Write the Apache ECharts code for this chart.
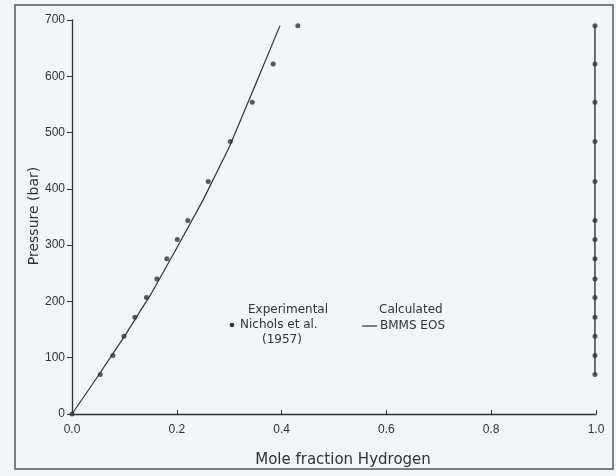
<!DOCTYPE html>
<html>
<head>
<meta charset="utf-8">
<script src="https://cdn.jsdelivr.net/npm/echarts@6/dist/echarts.min.js"></script>
<style>
  html, body { margin: 0; padding: 0; background: #f1f5f7; }
  #chart { width: 616px; height: 476px; }
</style>
</head>
<body>
<div id="chart"></div>
<script>
// Experimental VLE data, H2 mole fraction vs pressure (bar)
const liquidX = [0, 0.054, 0.078, 0.099, 0.120, 0.142, 0.162, 0.181, 0.201, 0.221, 0.260, 0.302, 0.344, 0.384, 0.431];
const liquidP = [0, 70, 104, 138, 172, 207, 240, 276, 310, 344, 413, 484, 554, 622, 690];
const vaporX  = [0.998, 0.998, 0.998, 0.998, 0.998, 0.998, 0.998, 0.998, 0.998, 0.998, 0.998, 0.998, 0.998, 0.998];
const vaporP  = [70, 104, 138, 172, 207, 240, 276, 310, 344, 413, 484, 554, 622, 690];

// Calculated curves (BMMS EOS)
const calcBubbleX = [0, 0.05, 0.10, 0.15, 0.20, 0.25, 0.30, 0.35, 0.397];
const calcBubbleP = [0, 68, 138, 212, 295, 380, 474, 585, 690];
const calcDewX = [0.998, 0.998];
const calcDewP = [70, 690];

// Axis ticks
const xTicks = [0, 0.2, 0.4, 0.6, 0.8, 1.0];
const yTicks = [0, 100, 200, 300, 400, 500, 600, 700];

const ink = '#333';
const pair = (xs, ys) => xs.map((x, i) => [x, ys[i]]);

const chart = echarts.init(document.getElementById('chart'));
chart.setOption({
  backgroundColor: '#f1f5f7',
  animation: false,
  grid: { left: 72, right: 20, top: 20, bottom: 62 },
  xAxis: {
    type: 'value', min: xTicks[0], max: xTicks[xTicks.length - 1], interval: 0.2,
    axisLine: { lineStyle: { color: ink, width: 1.3 } },
    axisTick: { inside: true, length: 4, lineStyle: { color: ink } },
    axisLabel: { color: ink, fontFamily: 'Liberation Sans', fontSize: 12, margin: 10,
                 formatter: v => v.toFixed(1) },
    splitLine: { show: false }
  },
  yAxis: {
    type: 'value', min: yTicks[0], max: yTicks[yTicks.length - 1], interval: 100,
    axisLine: { show: true, lineStyle: { color: ink, width: 1.3 } },
    axisTick: { show: true, inside: false, length: 5, lineStyle: { color: ink } },
    axisLabel: { color: ink, fontFamily: 'Liberation Sans', fontSize: 12, margin: 7 },
    splitLine: { show: false }
  },
  graphic: [
    { type: 'rect', shape: { x: 15, y: 5, width: 598, height: 464 }, silent: true, z: -1,
      style: { fill: null, stroke: '#555', lineWidth: 1.5 } },
    { type: 'text', x: 343, y: 460, style: { text: 'Mole fraction Hydrogen', fill: ink,
      font: '15px "DejaVu Sans"', textAlign: 'center', textVerticalAlign: 'middle' } },
    { type: 'text', x: 34, y: 216, rotation: Math.PI / 2, style: { text: 'Pressure (bar)', fill: ink,
      font: '14px "DejaVu Sans"', textAlign: 'center', textVerticalAlign: 'middle' } },
    { type: 'text', x: 248, y: 310, style: { text: 'Experimental', fill: ink,
      font: '12px "DejaVu Sans"', textVerticalAlign: 'middle' } },
    { type: 'circle', shape: { cx: 232, cy: 325, r: 2.3 }, style: { fill: ink } },
    { type: 'text', x: 240, y: 325, style: { text: 'Nichols et al.', fill: ink,
      font: '12px "DejaVu Sans"', textVerticalAlign: 'middle' } },
    { type: 'text', x: 262, y: 340, style: { text: '(1957)', fill: ink,
      font: '12px "DejaVu Sans"', textVerticalAlign: 'middle' } },
    { type: 'text', x: 379, y: 310, style: { text: 'Calculated', fill: ink,
      font: '12px "DejaVu Sans"', textVerticalAlign: 'middle' } },
    { type: 'line', shape: { x1: 362, y1: 326, x2: 377, y2: 326 }, style: { stroke: ink, lineWidth: 1.2 } },
    { type: 'text', x: 380, y: 326, style: { text: 'BMMS EOS', fill: ink,
      font: '12px "DejaVu Sans"', textVerticalAlign: 'middle' } }
  ],
  series: [
    { type: 'line', data: pair(calcBubbleX, calcBubbleP), smooth: false, symbol: 'none',
      lineStyle: { color: ink, width: 1.2 } },
    { type: 'line', data: pair(calcDewX, calcDewP), symbol: 'none',
      lineStyle: { color: ink, width: 1.4 } },
    { type: 'scatter', data: pair(liquidX, liquidP), symbolSize: 5,
      itemStyle: { color: ink } },
    { type: 'scatter', data: pair(vaporX, vaporP), symbolSize: 5,
      itemStyle: { color: ink } }
  ]
});
</script>
</body>
</html>
